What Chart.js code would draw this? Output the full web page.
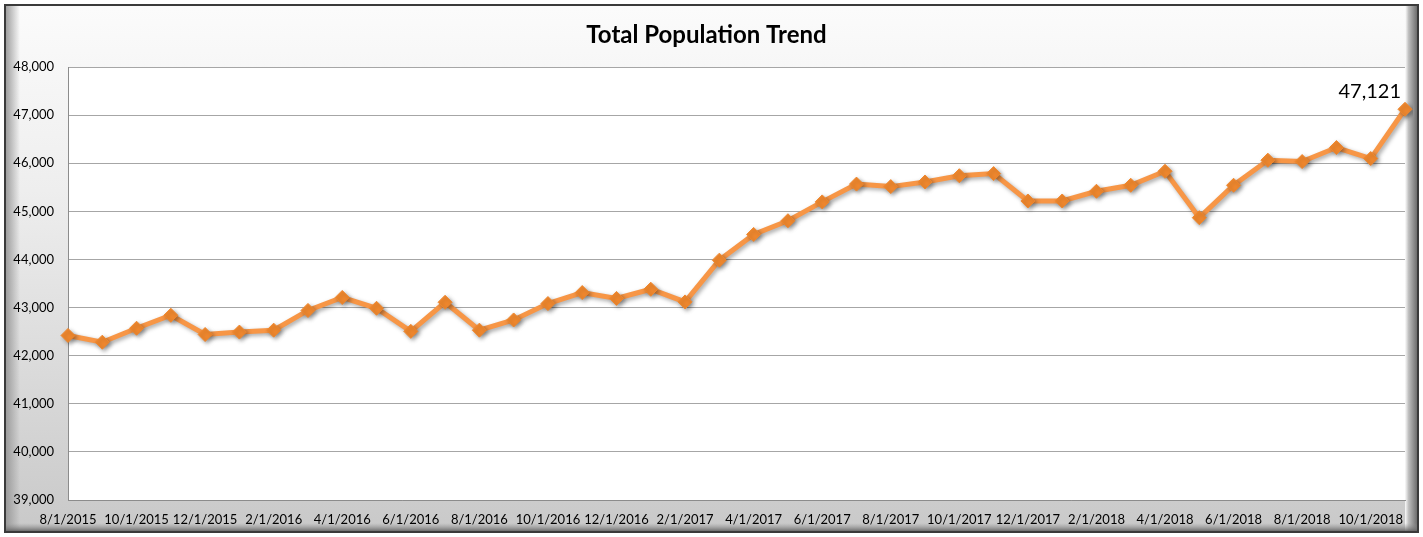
<!DOCTYPE html>
<html>
<head>
<meta charset="utf-8">
<script src="https://cdn.jsdelivr.net/npm/chart.js@4"></script>
<style>
  html, body { margin: 0; padding: 0; background: #ffffff; }
  #wrap { width: 1423px; height: 537px; position: relative; }
</style>
</head>
<body>
<div id="wrap"><canvas id="c" width="1423" height="537"></canvas></div>
<script>
const chartTitle = "Total Population Trend";
const months = [
  "8/1/2015","9/1/2015","10/1/2015","11/1/2015","12/1/2015",
  "1/1/2016","2/1/2016","3/1/2016","4/1/2016","5/1/2016","6/1/2016","7/1/2016","8/1/2016","9/1/2016","10/1/2016","11/1/2016","12/1/2016",
  "1/1/2017","2/1/2017","3/1/2017","4/1/2017","5/1/2017","6/1/2017","7/1/2017","8/1/2017","9/1/2017","10/1/2017","11/1/2017","12/1/2017",
  "1/1/2018","2/1/2018","3/1/2018","4/1/2018","5/1/2018","6/1/2018","7/1/2018","8/1/2018","9/1/2018","10/1/2018","11/1/2018"
];
const population = [
  42420, 42280, 42570, 42840, 42440,
  42490, 42530, 42940, 43210, 42985, 42505, 43110, 42530, 42742, 43083, 43312, 43190,
  43381, 43117, 43985, 44520, 44804, 45196, 45566, 45514, 45610, 45740, 45785, 45215,
  45215, 45417, 45542, 45833, 44868, 45542, 46063, 46035, 46326, 46097, 47121
];
const yMin = 39000, yMax = 48000, yStep = 1000;
const labelledIndex = 39; // point carrying the value label

const frameBg = {
  id: 'frameBg',
  beforeDraw(chart) {
    const ctx = chart.ctx, W = chart.width, H = chart.height;
    ctx.save();
    ctx.fillStyle = '#3a3a3a';
    ctx.fillRect(4, 4, W - 8, H - 8);
    const g = ctx.createLinearGradient(0, 8, 0, H - 8);
    g.addColorStop(0, '#fbfbfb');
    g.addColorStop(0.35, '#eeeeee');
    g.addColorStop(1, '#c9c9c9');
    ctx.fillStyle = g;
    ctx.fillRect(6, 6, W - 12, H - 12);
    const gl = ctx.createLinearGradient(6, 0, 20, 0);
    gl.addColorStop(0, 'rgba(150,150,150,0.9)');
    gl.addColorStop(1, 'rgba(150,150,150,0)');
    ctx.fillStyle = gl;
    ctx.fillRect(6, 6, 14, H - 12);
    const gr = ctx.createLinearGradient(W - 18, 0, W - 6, 0);
    gr.addColorStop(0, 'rgba(255,255,255,0.9)');
    gr.addColorStop(0.3, 'rgba(190,190,190,1)');
    gr.addColorStop(1, 'rgba(110,110,110,1)');
    ctx.fillStyle = gr;
    ctx.fillRect(W - 18, 6, 12, H - 12);
    const gb = ctx.createLinearGradient(0, H - 14, 0, H - 6);
    gb.addColorStop(0, 'rgba(150,150,150,0)');
    gb.addColorStop(1, 'rgba(100,100,100,0.9)');
    ctx.fillStyle = gb;
    ctx.fillRect(6, H - 14, W - 12, 8);
    const a = chart.chartArea;
    ctx.fillStyle = '#ffffff';
    ctx.fillRect(a.left, a.top, a.right - a.left, a.bottom - a.top);
    ctx.restore();
  }
};

const shadowPlugin = {
  id: 'shadowPlugin',
  beforeDatasetsDraw(chart) {
    const ctx = chart.ctx;
    ctx.save();
    ctx.shadowColor = 'rgba(0,0,0,0.35)';
    ctx.shadowBlur = 4;
    ctx.shadowOffsetX = 2;
    ctx.shadowOffsetY = 2;
  },
  afterDatasetsDraw(chart) {
    chart.ctx.restore();
  }
};

const valueLabel = {
  id: 'valueLabel',
  afterDatasetsDraw(chart) {
    const meta = chart.getDatasetMeta(0);
    const pt = meta.data[labelledIndex];
    if (!pt) return;
    const ctx = chart.ctx;
    ctx.save();
    ctx.font = '20px Lato, "Open Sans", sans-serif';
    ctx.fillStyle = '#000000';
    ctx.textAlign = 'right';
    ctx.textBaseline = 'middle';
    ctx.fillText(population[labelledIndex].toLocaleString('en-US'), pt.x - 4, pt.y - 18);
    ctx.restore();
  }
};

new Chart(document.getElementById('c'), {
  type: 'line',
  data: {
    labels: months,
    datasets: [{
      label: 'Total Population',
      data: population,
      borderColor: '#F79646',
      backgroundColor: '#F0882E',
      borderWidth: 5,
      pointStyle: 'rectRot',
      pointRadius: 7,
      pointHoverRadius: 7,
      pointBackgroundColor: '#F0882E',
      pointBorderColor: '#F0882E',
      pointBorderWidth: 1,
      tension: 0,
      fill: false
    }]
  },
  options: {
    responsive: false,
    animation: false,
    devicePixelRatio: 1,
    layout: { padding: { left: 8, right: 18, top: 0, bottom: 0 } },
    plugins: {
      legend: { display: false },
      tooltip: { enabled: false },
      title: {
        display: true,
        text: chartTitle,
        color: '#000000',
        font: { family: 'Lato, "Open Sans", sans-serif', size: 24, weight: 'bold', lineHeight: 1.2 },
        padding: { top: 21, bottom: 17.2 }
      }
    },
    scales: {
      x: {
        type: 'category',
        offset: false,
        grid: { display: false, drawTicks: false },
        border: { display: true, color: '#8c8c8c', width: 1 },
        ticks: {
          autoSkip: false,
          maxRotation: 0,
          minRotation: 0,
          padding: 12,
          color: '#000000',
          font: { family: 'Lato, "Open Sans", sans-serif', size: 13 },
          callback: function(v, i) { return i % 2 === 0 ? months[i] : ''; }
        },
        afterFit(scale) { scale.height = 37; }
      },
      y: {
        min: yMin,
        max: yMax,
        grid: { color: '#a6a6a6', lineWidth: 1, drawTicks: false },
        border: { display: true, color: '#8c8c8c', width: 1 },
        ticks: {
          stepSize: yStep,
          padding: 14,
          color: '#000000',
          font: { family: 'Lato, "Open Sans", sans-serif', size: 13 },
          callback: function(v) { return Number(v).toLocaleString('en-US'); }
        },
        afterFit(scale) { scale.width = 60; }
      }
    }
  },
  plugins: [frameBg, shadowPlugin, valueLabel]
});
</script>
</body>
</html>
